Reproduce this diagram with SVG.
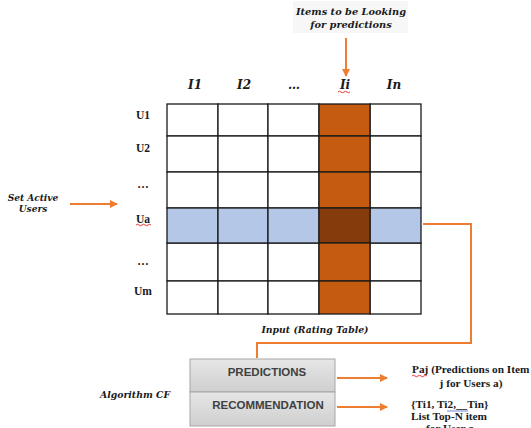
<svg xmlns="http://www.w3.org/2000/svg" width="531" height="428" viewBox="0 0 531 428">
<style>
.lbl{font-family:"DejaVu Serif","Liberation Serif",serif;font-style:italic;font-weight:bold;fill:#1a1a1a}
.hdr{font-family:"DejaVu Serif","Liberation Serif",serif;font-style:italic;font-weight:bold;font-size:12px;fill:#1a1a1a}
.row{font-family:"Liberation Serif",serif;font-weight:bold;font-size:11.5px;fill:#1a1a1a}
.res{font-family:"Liberation Serif",serif;font-weight:bold;font-size:11.3px;fill:#1a1a1a}
.box{font-family:"Liberation Sans",sans-serif;font-weight:bold;font-size:11.5px;fill:#404040}
.cell{fill:#fff;stroke:#1a1a1a;stroke-width:1.3}
.conn{stroke:#ED7D31;stroke-width:2;fill:none}
.sq{stroke:#e02020;stroke-width:0.9;fill:none}
</style>
<defs>
<marker id="ah" markerWidth="8" markerHeight="8" refX="7" refY="4" orient="auto" markerUnits="userSpaceOnUse">
<path d="M0,0 L8,4 L0,8 Z" fill="#ED7D31"/>
</marker>
<linearGradient id="gb" x1="0" y1="0" x2="0" y2="1">
<stop offset="0" stop-color="#e6e6e6"/>
<stop offset="1" stop-color="#cfcfcf"/>
</linearGradient>
</defs>
<rect width="531" height="428" fill="#fff"/>

<g id="top-label">
<rect x="293" y="1" width="115" height="32" fill="#f7f7f8"/>
<text class="lbl" font-size="9.8" x="351" y="15" text-anchor="middle">Items to be Looking</text>
<text class="lbl" font-size="9.8" x="351" y="28" text-anchor="middle">for predictions</text>
</g>

<g id="headers">
<text class="hdr" x="195" y="89" text-anchor="middle">I1</text>
<text class="hdr" x="244" y="89" text-anchor="middle">I2</text>
<text class="hdr" x="294" y="89" text-anchor="middle">…</text>
<text class="hdr" x="345" y="89" text-anchor="middle">Ii</text>
<text class="hdr" x="394" y="89" text-anchor="middle">In</text>
<path class="sq" d="M338,92 q1.5,-1.5 3,0 t3,0 t3,0 t3,0"/>
</g>

<g id="row-labels">
<text class="row" x="143" y="119" text-anchor="middle">U1</text>
<text class="row" x="143" y="152" text-anchor="middle">U2</text>
<text class="row" x="143" y="188" text-anchor="middle">…</text>
<text class="row" x="143" y="223" text-anchor="middle">Ua</text>
<path class="sq" d="M136,225 q1.5,-1.5 3,0 t3,0 t3,0 t3,0 t3,0"/>
<text class="row" x="143" y="265" text-anchor="middle">…</text>
<text class="row" x="143" y="295" text-anchor="middle">Um</text>
</g>

<g id="rating-table">
<g class="cell">
<rect x="167" y="104" width="51" height="32"/><rect x="218" y="104" width="50" height="32"/><rect x="268" y="104" width="51" height="32"/><rect x="370" y="104" width="51" height="32"/>
<rect x="167" y="136" width="51" height="36"/><rect x="218" y="136" width="50" height="36"/><rect x="268" y="136" width="51" height="36"/><rect x="370" y="136" width="51" height="36"/>
<rect x="167" y="172" width="51" height="36"/><rect x="218" y="172" width="50" height="36"/><rect x="268" y="172" width="51" height="36"/><rect x="370" y="172" width="51" height="36"/>
<rect x="167" y="243" width="51" height="38"/><rect x="218" y="243" width="50" height="38"/><rect x="268" y="243" width="51" height="38"/><rect x="370" y="243" width="51" height="38"/>
<rect x="167" y="281" width="51" height="33"/><rect x="218" y="281" width="50" height="33"/><rect x="268" y="281" width="51" height="33"/><rect x="370" y="281" width="51" height="33"/>
</g>
<g stroke="#1a1a1a" stroke-width="1.3">
<rect x="167" y="208" width="51" height="35" fill="#B4C7E7"/><rect x="218" y="208" width="50" height="35" fill="#B4C7E7"/><rect x="268" y="208" width="51" height="35" fill="#B4C7E7"/><rect x="370" y="208" width="51" height="35" fill="#B4C7E7"/>
<rect x="319" y="104" width="51" height="32" fill="#C55A11"/>
<rect x="319" y="136" width="51" height="36" fill="#C55A11"/>
<rect x="319" y="172" width="51" height="36" fill="#C55A11"/>
<rect x="319" y="208" width="51" height="35" fill="#843C0C"/>
<rect x="319" y="243" width="51" height="38" fill="#C55A11"/>
<rect x="319" y="281" width="51" height="33" fill="#C55A11"/>
</g>
<text class="lbl" font-size="9.3" x="315" y="333" text-anchor="middle">Input (Rating Table)</text>
</g>

<g id="set-active-users">
<text class="lbl" font-size="9" x="33" y="201" text-anchor="middle">Set Active</text>
<text class="lbl" font-size="9" x="33" y="212" text-anchor="middle">Users</text>
</g>

<g id="algorithm-label">
<text class="lbl" font-size="9.3" x="135" y="398" text-anchor="middle">Algorithm CF</text>
</g>

<g id="predictions">
<rect x="190" y="359" width="145" height="33" fill="url(#gb)" stroke="#a6a6a6" stroke-width="1"/>
<text class="box" x="267" y="376" text-anchor="middle">PREDICTIONS</text>
</g>
<g id="recommendation">
<rect x="190" y="392" width="145" height="34" fill="url(#gb)" stroke="#a6a6a6" stroke-width="1"/>
<text class="box" x="268" y="409" text-anchor="middle">RECOMMENDATION</text>
</g>

<g id="pred-result">
<text class="res" x="412" y="373">Paj (Predictions on Item</text>
<path class="sq" d="M412,376 q1.5,-1.5 3,0 t3,0 t3,0 t3,0 t3,0"/>
<text class="res" x="471" y="387" text-anchor="middle">j for Users a)</text>
</g>
<g id="rec-result">
<text class="res" x="411" y="408">{Ti1, Ti2,__Tin}</text>
<line x1="447" y1="411" x2="468" y2="411" stroke="#4472C4" stroke-width="0.8"/>
<text class="res" x="411" y="420">List Top-N item</text>
<text class="res" x="426" y="432">for User a</text>
</g>

<g id="connectors">
<line class="conn" x1="346" y1="38" x2="346" y2="76" marker-end="url(#ah)"/>
<line class="conn" x1="70" y1="204" x2="117" y2="204" marker-end="url(#ah)"/>
<polyline class="conn" points="423,224 471,224 471,343 257,343 257,358"/>
<line class="conn" x1="337" y1="378" x2="387" y2="378" marker-end="url(#ah)"/>
<line class="conn" x1="337" y1="407" x2="387" y2="407" marker-end="url(#ah)"/>
</g>
</svg>
